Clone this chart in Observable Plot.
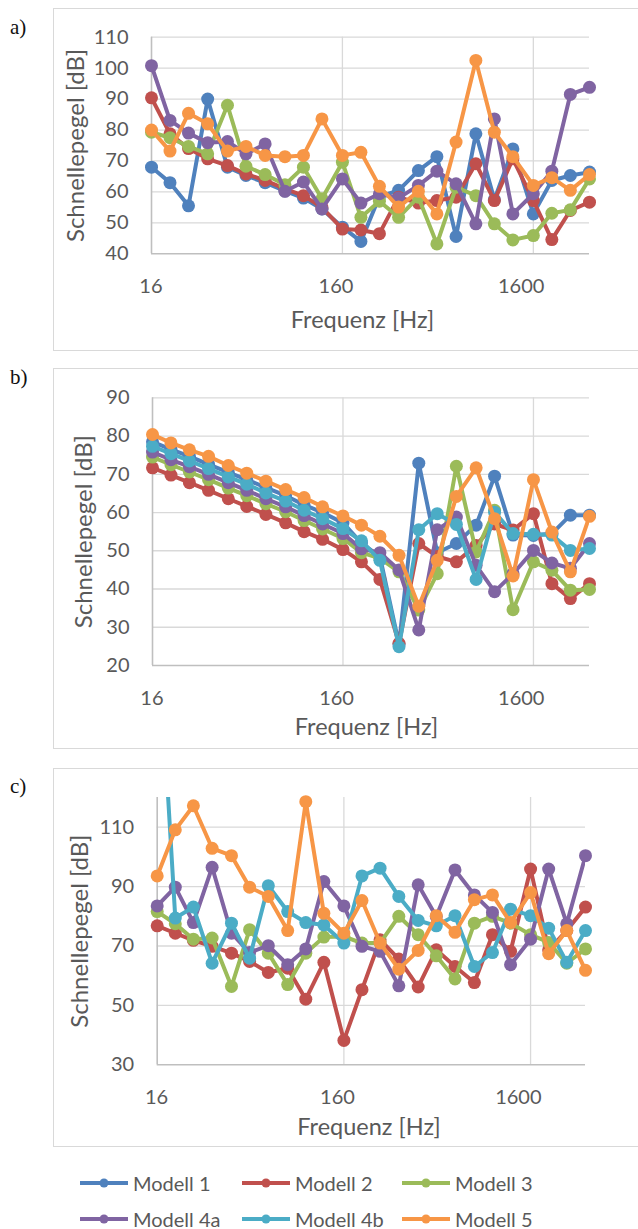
<!DOCTYPE html>
<html>
<head>
<meta charset="utf-8">
<script src="https://cdn.jsdelivr.net/npm/d3@7"></script>
<script src="https://cdn.jsdelivr.net/npm/@observablehq/plot@0.6"></script>
<style>
  html, body { margin: 0; padding: 0; background: #fff; }
  body { width: 638px; height: 1229px; position: relative; overflow: hidden; font-family: Lato, "Open Sans", sans-serif; }
  .frame { position: absolute; border: 1px solid #d9d9d9; box-sizing: border-box; }
  .panel { position: absolute; left: 0; }
  .plabel { position: absolute; left: 10px; font-family: "Liberation Serif", "Times New Roman", serif; font-size: 21px; line-height: 21px; color: #111; }
  .legitem { position: absolute; display: flex; align-items: center; height: 24px; font-size: 20px; color: #595959; font-family: Lato, sans-serif; white-space: nowrap; }
  .legitem svg { display: block; margin-right: 5px; }
</style>
</head>
<body>
<script>
// ---------- data ----------
const freqs = [16, 20, 25, 31.5, 40, 50, 63, 80, 100, 125, 160, 200, 250, 315, 400, 500, 630, 800, 1000, 1250, 1600, 2000, 2500, 3150];
const xTicks = [16, 160, 1600];
const seriesNames = ["Modell 1", "Modell 2", "Modell 3", "Modell 4a", "Modell 4b", "Modell 5"];
const seriesColors = ["#4F81BD", "#C0504D", "#9BBB59", "#8064A2", "#4BACC6", "#F79646"];

// panel a
const yTicksA = [40, 50, 60, 70, 80, 90, 100, 110];
const aModell1  = [68, 63, 55.5, 90, 68, 65.3, 63, 60.3, 58, 54.5, 48.6, 44, 58.5, 60.5, 66.9, 71.4, 45.6, 78.8, 57.5, 73.9, 52.9, 63.7, 65.3, 66.4];
const aModell2  = [90.4, 78.8, 74, 70.7, 68.5, 65.8, 63.7, 61, 58.8, 55, 48, 47.7, 46.5, 58.3, 56.4, 57.2, 58.3, 69.1, 57.2, 70.7, 57.2, 44.6, 54, 56.7];
const aModell3  = [79.3, 77.5, 74.7, 72.3, 88, 68.3, 65.6, 62.3, 68, 57.8, 69.6, 51.8, 57, 51.8, 58.3, 43.2, 61.5, 58.8, 49.7, 44.5, 45.9, 53.1, 54.2, 64.2];
const aModell4a = [100.8, 83.1, 79, 75.9, 76.3, 72.3, 75.5, 60.2, 63.2, 54.5, 64.2, 56.4, 59.4, 58, 62.1, 66.7, 62.6, 49.7, 83.6, 52.9, 59.4, 66.7, 91.5, 93.8];
const aModell5  = [80, 73.2, 85.4, 82, 73.2, 74.7, 71.8, 71.4, 71.8, 83.6, 71.8, 72.8, 61.8, 55.1, 60.2, 52.9, 76.1, 102.5, 79.3, 71.4, 62.1, 64.6, 60.5, 65.6];

// panel b
const yTicksB = [20, 30, 40, 50, 60, 70, 80, 90];
const bModell1  = [78.5, 76.5, 74.7, 72.6, 70.5, 68.6, 66.5, 64.4, 62, 60, 57.3, 52, 48.5, 25.5, 72.9, 49.5, 51.9, 56.7, 69.5, 54.1, 54, 54.5, 59.3, 59.3];
const bModell2  = [71.7, 69.8, 67.8, 65.8, 63.6, 61.6, 59.5, 57.3, 55, 53, 50.3, 47.1, 42.5, 25.8, 51.9, 48.5, 47.1, 51.4, 57, 55.4, 59.7, 41.4, 37.5, 41.4];
const bModell3  = [74.5, 72.5, 70.6, 68.6, 66.4, 64.4, 62.3, 60.2, 57.9, 55.7, 53.2, 49.5, 48, 44.5, 34.5, 44, 72.1, 49.7, 60.6, 34.6, 47.1, 44.9, 39.7, 39.9];
const bModell4a = [75.8, 73.8, 72, 70, 67.8, 65.8, 63.6, 61.5, 59.2, 57, 54.5, 50.5, 49.5, 45, 29.3, 55.5, 58.8, 46.2, 39.3, 44, 50.1, 46.8, 45.4, 51.9];
const bModell4b = [77.3, 75.4, 73.5, 71.5, 69.3, 67.4, 65.1, 63, 60.6, 58.4, 55.8, 52.6, 47.5, 24.9, 55.5, 59.7, 56.9, 42.5, 60.1, 54.5, 54.3, 54.1, 50.1, 50.6];
const bModell5  = [80.4, 78.2, 76.4, 74.7, 72.3, 70.3, 68.2, 66, 63.9, 61.5, 59.1, 56.7, 53.8, 48.8, 35.5, 47.5, 64.2, 71.7, 58.4, 43.4, 68.6, 54.9, 44.5, 59];

// panel c
const yTicksC = [30, 50, 70, 90, 110];
const cModell2  = [76.8, 74.3, 71.9, 69.9, 67.6, 64.8, 61.1, 62.5, 52.1, 64.5, 38.2, 55.3, 72.1, 65.6, 56.2, 68.7, 63.1, 57.7, 73.8, 68.2, 95.9, 68.7, 75.2, 83.1];
const cModell3  = [81.6, 77.5, 72.3, 72.7, 56.4, 75.5, 67.6, 57, 67.6, 73, 73.2, 71, 71, 80, 73.8, 66.7, 58.9, 77.7, 80, 77.7, 73.8, 71.2, 64.2, 69];
const cModell4a = [83.5, 89.8, 77.9, 96.5, 74.3, 67.8, 70.1, 63.7, 69, 91.7, 83.5, 69.9, 68.2, 56.6, 90.6, 79.9, 95.6, 87.2, 81.3, 63.7, 72.3, 95.9, 77.5, 100.4];
const cModell4b = [182, 79.4, 83.1, 64.2, 77.7, 65.9, 90.3, 81.6, 77.9, 77.1, 71, 93.6, 96.2, 86.7, 78.6, 76.8, 80.2, 63.1, 67.8, 82.4, 80.2, 76, 64.5, 75.2];
const cModell5  = [93.6, 109.1, 117.2, 102.9, 100.4, 89.8, 86.7, 75.2, 118.6, 81, 74.3, 85.3, 71, 62.2, 68.5, 80.2, 74.6, 85.6, 87.2, 77.9, 88, 67.4, 75.2, 61.8];

// ---------- helpers ----------
function rowsOf(list) {
  return list.map(([name, vals]) => ({name, rows: vals.map((v, i) => ({name, f: freqs[i], v}))}));
}
const colorOf = n => seriesColors[seriesNames.indexOf(n)];

function makePanel(cfg) {
  const yMax = cfg.yDomain[1];
  const seriesMarks = cfg.series.flatMap(s => [
    Plot.line(s.rows, {x: "f", y: "v", stroke: colorOf(s.name), strokeWidth: 4, strokeLinejoin: "round", clip: true}),
    Plot.dot(s.rows.filter(d => d.v <= yMax), {x: "f", y: "v", r: 6.5, fill: colorOf(s.name)})
  ]);
  const plotCenter = (cfg.mL + 638 - cfg.mR) / 2;
  const plot = Plot.plot({
    width: 638,
    height: cfg.height,
    marginLeft: cfg.mL, marginRight: cfg.mR, marginTop: cfg.mT, marginBottom: cfg.mB,
    style: {fontFamily: "Lato, 'Open Sans', sans-serif", fontSize: "20px", color: "#595959", background: "transparent", overflow: "visible"},
    x: {type: "log", domain: [16, 3150]},
    y: {domain: cfg.yDomain},
    marks: [
      Plot.ruleY(cfg.yTicks.slice(1), {stroke: "#d9d9d9", strokeWidth: 1.3}),
      Plot.ruleX(xTicks.slice(1), {stroke: "#d9d9d9", strokeWidth: 1.3}),
      Plot.ruleX([xTicks[0]], {stroke: "#bfbfbf", strokeWidth: 1.6}),
      Plot.ruleY([cfg.yDomain[0]], {stroke: "#bfbfbf", strokeWidth: 1.6}),
      Plot.axisY({ticks: cfg.yTicks, tickSize: 0, tickPadding: 23, label: null, tickFormat: d => String(d)}),
      Plot.axisX({ticks: xTicks, tickSize: 0, tickPadding: 25, label: null, tickFormat: d => String(d), textAnchor: "end", dx: 11}),
      ...seriesMarks,
      Plot.text(["Schnellepegel [dB]"], {text: d => d, frameAnchor: "left", textAnchor: "middle", lineAnchor: "middle", rotate: -90, dx: cfg.yTitleX - cfg.mL, fontSize: 24}),
      Plot.text(["Frequenz [Hz]"], {text: d => d, frameAnchor: "bottom", textAnchor: "middle", lineAnchor: "middle", dy: cfg.xTitleDy, dx: cfg.xTitleX - plotCenter, fontSize: 23.5})
    ]
  });
  plot.classList.add("panel");
  plot.style.top = cfg.top + "px";
  return plot;
}

const panels = [
  {label: "a)", labelTop: 17, frame: [8, 343], top: 8, height: 343, mL: 151, mR: 49, mT: 28.7, mB: 97.7,
   yDomain: [40, 110], yTicks: yTicksA, yTitleX: 75.5, xTitleDy: 67, xTitleX: 362,
   series: rowsOf([["Modell 1", aModell1], ["Modell 2", aModell2], ["Modell 3", aModell3], ["Modell 4a", aModell4a], ["Modell 5", aModell5]])},
  {label: "b)", labelTop: 367, frame: [368, 381], top: 368, height: 381, mL: 152, mR: 49, mT: 29.3, mB: 84,
   yDomain: [20, 90], yTicks: yTicksB, yTitleX: 84, xTitleDy: 62, xTitleX: 366,
   series: rowsOf([["Modell 1", bModell1], ["Modell 2", bModell2], ["Modell 3", bModell3], ["Modell 4a", bModell4a], ["Modell 4b", bModell4b], ["Modell 5", bModell5]])},
  {label: "c)", labelTop: 776, frame: [768, 379], top: 768, height: 379, mL: 156.7, mR: 53, mT: 29, mB: 82.7,
   yDomain: [30, 120], yTicks: yTicksC, yTitleX: 80, xTitleDy: 62.2, xTitleX: 368.5,
   series: rowsOf([["Modell 2", cModell2], ["Modell 3", cModell3], ["Modell 4a", cModell4a], ["Modell 4b", cModell4b], ["Modell 5", cModell5]])}
];

for (const p of panels) {
  const fr = document.createElement("div");
  fr.className = "frame";
  fr.style.left = "53px"; fr.style.top = p.frame[0] + "px";
  fr.style.width = "620px"; fr.style.height = p.frame[1] + "px";
  document.body.appendChild(fr);
  document.body.appendChild(makePanel(p));
  const lb = document.createElement("div");
  lb.className = "plabel";
  lb.style.top = p.labelTop + "px";
  lb.textContent = p.label;
  document.body.appendChild(lb);
}

// ---------- legend ----------
const legendCols = [80, 242, 402];
const legendRows = [1183, 1219];
seriesNames.forEach((name, i) => {
  const col = i % 3, row = Math.floor(i / 3);
  const item = d3.select(document.body).append("div").attr("class", "legitem")
    .style("left", legendCols[col] + "px").style("top", (legendRows[row] - 12) + "px");
  const svg = item.append("svg").attr("width", 48).attr("height", 24);
  svg.append("line").attr("x1", 0).attr("x2", 48).attr("y1", 12).attr("y2", 12)
    .attr("stroke", seriesColors[i]).attr("stroke-width", 4);
  svg.append("circle").attr("cx", 24).attr("cy", 12).attr("r", 4.5).attr("fill", seriesColors[i]);
  item.append("span").text(name);
});
</script>
</body>
</html>
